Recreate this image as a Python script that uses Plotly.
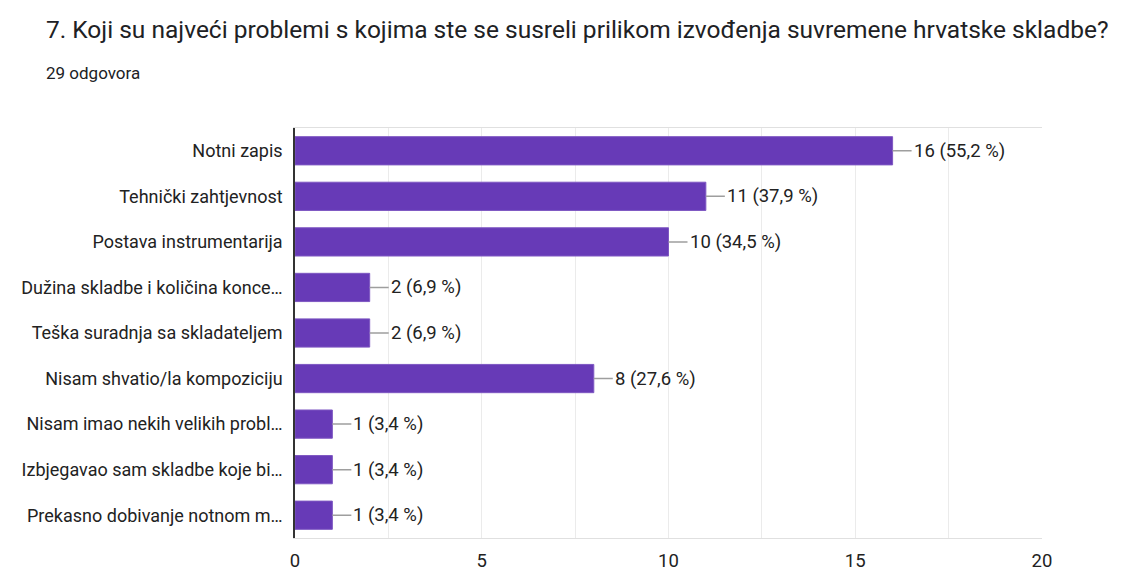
import plotly.graph_objects as go

categories = [
    "Notni zapis",
    "Tehnički zahtjevnost",
    "Postava instrumentarija",
    "Dužina skladbe i količina konce…",
    "Teška suradnja sa skladateljem",
    "Nisam shvatio/la kompoziciju",
    "Nisam imao nekih velikih probl…",
    "Izbjegavao sam skladbe koje bi…",
    "Prekasno dobivanje notnom m…",
]
counts = [16, 11, 10, 2, 2, 8, 1, 1, 1]
percents = ["55,2", "37,9", "34,5", "6,9", "6,9", "27,6", "3,4", "3,4", "3,4"]
x_ticks = [0, 5, 10, 15, 20]

FONT = "Roboto, Liberation Sans, Arial, sans-serif"
PURPLE = "#673ab7"

fig = go.Figure(
    go.Bar(
        x=counts,
        y=categories,
        orientation="h",
        marker=dict(color=PURPLE, line=dict(color="#7e57c2", width=1)),
        width=0.62,
        hoverinfo="skip",
    )
)

# value labels joined to each bar end by a short grey connector
for cat, n, pct in zip(categories, counts, percents):
    fig.add_annotation(
        x=n, y=cat, xref="x", yref="y",
        text=f"{n} ({pct} %)",
        showarrow=True, arrowhead=0, arrowwidth=1.5, arrowcolor="#9e9e9e",
        ax=19, ay=0, xanchor="left", standoff=0, startstandoff=0,
        font=dict(family=FONT, size=18.5, color="#222222"),
    )

fig.update_layout(
    width=1123, height=573,
    margin=dict(l=295, r=81, t=128, b=35),
    paper_bgcolor="white", plot_bgcolor="white",
    showlegend=False,
    font=dict(family=FONT, color="#222222"),
    bargap=0.38,
    annotations=list(fig.layout.annotations) + [
        dict(text="7. Koji su najveći problemi s kojima ste se susreli prilikom izvođenja suvremene hrvatske skladbe?",
             xref="paper", yref="paper", x=(44 - 295) / 747, y=1 + 99 / 410, xanchor="left", yanchor="middle",
             showarrow=False, font=dict(family=FONT, size=24.5, color="#202124")),
        dict(text="29 odgovora",
             xref="paper", yref="paper", x=(44 - 295) / 747, y=1 + 55 / 410, xanchor="left", yanchor="middle",
             showarrow=False, font=dict(family=FONT, size=17, color="#202124")),
    ],
)

fig.update_xaxes(
    range=[0, 20], tickvals=x_ticks, ticktext=[str(t) for t in x_ticks],
    showgrid=True, gridcolor="#ebebeb", gridwidth=1,
    minor=dict(dtick=2.5, showgrid=True, gridcolor="#ebebeb", gridwidth=1),
    showline=True, linecolor="#e0e0e0", linewidth=1, mirror=True,
    zeroline=False, ticks="outside", ticklen=6, tickcolor="rgba(0,0,0,0)",
    tickfont=dict(family=FONT, size=18.5, color="#222222"),
    automargin=False, fixedrange=True,
)
fig.update_yaxes(
    autorange="reversed", showline=True, linecolor="#333333", linewidth=1.5,
    showgrid=False, ticks="", ticklabelstandoff=7,
    tickfont=dict(family=FONT, size=18, color="#222222"),
    automargin=False, fixedrange=True,
)

fig.write_html("out.html")
